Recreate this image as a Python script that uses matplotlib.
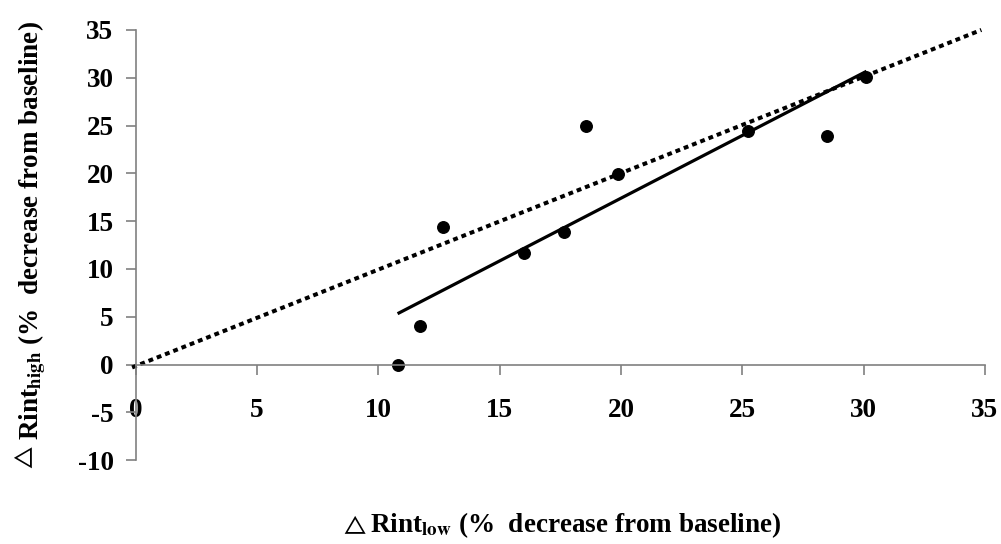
import matplotlib
matplotlib.use('Agg')
import matplotlib.pyplot as plt

plt.rcParams['font.family'] = ['Liberation Serif', 'DejaVu Serif']
plt.rcParams['font.weight'] = 'bold'
plt.rcParams['mathtext.fontset'] = 'stix'
plt.rcParams['axes.unicode_minus'] = False

# data
rint_low = [10.82, 11.72, 12.68, 16.0, 17.66, 18.55, 19.89, 25.25, 28.48, 30.1]
rint_high = [0.0, 4.0, 14.4, 11.7, 13.9, 24.9, 19.9, 24.4, 23.9, 30.1]
fit_x = [10.85, 30.06]
fit_y = [5.4, 30.6]
identity_x = [-0.15, 34.85]
identity_y = [-0.3, 35.0]
ticks_x = [0, 5, 10, 15, 20, 25, 30, 35]
ticks_y = [-10, -5, 0, 5, 10, 15, 20, 25, 30, 35]
xlabel = r'Rint$_{\mathbf{low}}$ (%  decrease from baseline)'
ylabel = r'Rint$_{\mathbf{high}}$ (%  decrease from baseline)'

W, H = 1001, 544
fig = plt.figure(figsize=(W / 100, H / 100), dpi=100)
ax = fig.add_axes([0.1356, 0.154, 0.8484, 0.791])

ax.plot(identity_x, identity_y, color='black', lw=2.9,
        linestyle=(0, (1.2, 1.0)), dash_capstyle='butt', clip_on=False)
ax.plot(fit_x, fit_y, color='black', lw=2.3, clip_on=False)
ax.plot(rint_low, rint_high, 'o', color='black', ms=8.3, clip_on=False)

ax.set_xlim(0, 35)
ax.set_ylim(-10, 35)
ax.set_xticks(ticks_x)
ax.set_yticks(ticks_y)

ax.spines['top'].set_visible(False)
ax.spines['right'].set_visible(False)
ax.spines['bottom'].set_position(('data', 0))
for s in ['left', 'bottom']:
    ax.spines[s].set_color('#808080')
    ax.spines[s].set_linewidth(1.2)

ax.tick_params(axis='both', colors='#808080', width=1.2, length=7,
               labelcolor='black', labelsize=19.5)
ax.tick_params(axis='x', pad=17)
ax.tick_params(axis='y', pad=9)

# axis titles: small thin triangle, then the bold text
fig.text(353 / W, 1 - 525 / H, r'$\triangle$', ha='center', va='center',
         fontsize=14)
fig.text(370 / W, 1 - 532 / H, xlabel, ha='left', va='baseline',
         fontsize=19.5, fontweight='bold')
fig.text(24 / W, 1 - 459 / H, r'$\triangle$', ha='center', va='center',
         fontsize=14, rotation=90)
fig.text(38 / W, 1 - 440 / H, ylabel, ha='left', va='baseline',
         rotation=90, rotation_mode='anchor', fontsize=19.5, fontweight='bold')

fig.savefig('out.png', dpi=100)
